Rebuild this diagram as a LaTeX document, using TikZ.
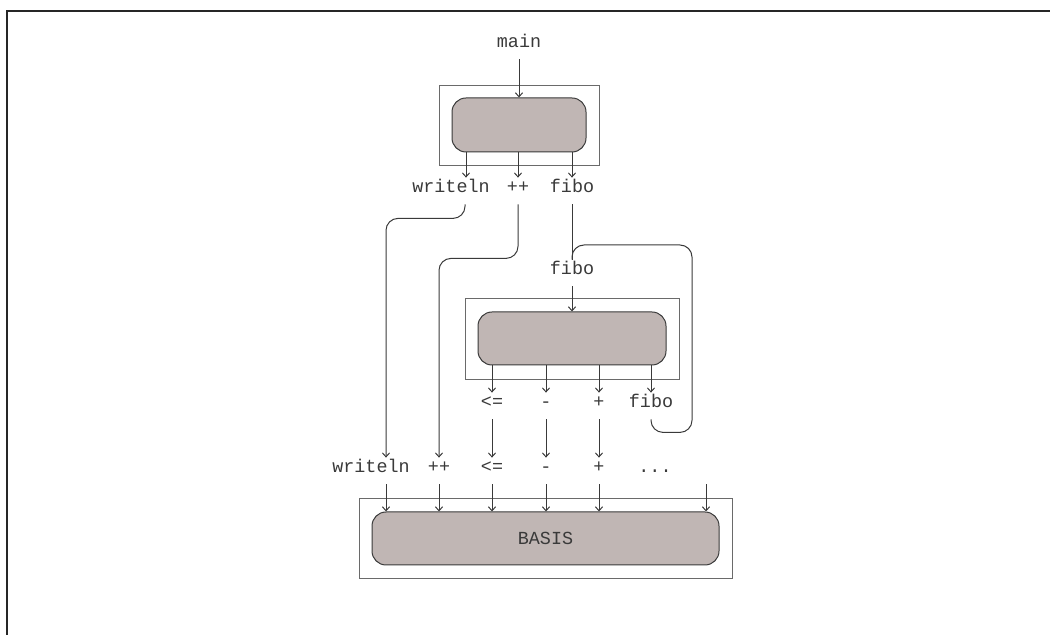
\documentclass[tikz,border=0pt]{standalone}
\usepackage{fontspec}
\usepackage{tikz}
\usetikzlibrary{arrows.meta,positioning,calc}
\newfontfamily\codefont{Liberation Mono}
\definecolor{cL}{HTML}{3a3a3a}
\definecolor{cG}{HTML}{6a6a6a}
\definecolor{cB}{HTML}{c0b6b4}
\tikzset{
  lbl/.style={font=\codefont\fontsize{9.2}{11}\selectfont,text=cL,inner sep=1.5pt,
              text height=6pt,text depth=4pt,anchor=base},
  frame/.style={draw=cG,line width=.4pt,inner sep=0pt},
  core/.style={draw=cL,fill=cB,rounded corners=7pt,line width=.5pt,inner sep=0pt,
              font=\codefont\fontsize{9.2}{11}\selectfont,text=cL},
  call/.style={-{Straight Barb[length=2pt,width=3.6pt]},cL,line width=.5pt},
  wire/.style={cL,line width=.5pt,rounded corners=6pt},
}

\begin{document}
\begin{tikzpicture}[x=.5pt,y=-.5pt]
  \useasboundingbox (0,0) rectangle (1050,635);
  \draw[line width=1pt,black!85] (7,635) -- (7,11) -- (1050,11);
  % module main
  \node[frame,minimum width=80pt,minimum height=40pt] (box1) at (519,125) {};
  \node[core,minimum width=67pt,minimum height=27pt] (core1) at (519,125) {};
  \node[lbl] (main) at (519,48) {main};
  \node[lbl] (wlA) at (451,193) {writeln};
  \node[lbl] (ppA) at (518,193) {++};
  \node[lbl] (fbA) at (572,193) {fibo};
  \draw[call] (main.south) -- (main.south |- core1.north);
  \draw[call] ([xshift=7.5pt]wlA.north |- core1.south) -- ([xshift=7.5pt]wlA.north);
  \foreach \n in {ppA,fbA}
     \draw[call] (\n.north |- core1.south) -- (\n.north);
  % module fibo
  \node[frame,minimum width=107pt,minimum height=40.5pt] (box2) at (572,338.5) {};
  \node[core,minimum width=94pt,minimum height=26.5pt] (core2) at (572,338.5) {};
  \node[lbl] (fbB) at (572,275) {fibo};
  \node[lbl] (leB) at (492,408) {<=};
  \node[lbl] (miB) at (546,408) {-};
  \node[lbl] (plB) at (599,408) {+};
  \node[lbl] (fbC) at (651,408) {fibo};
  \draw[wire] (fbA.south) -- (fbB.north);
  \draw[call] (fbB.south) -- (fbB.south |- core2.north);
  \foreach \n in {leB,miB,plB,fbC}
     \draw[call] (\n.north |- core2.south) -- (\n.north);
  % recursion
  \coordinate (rec) at (692,245);
  \draw[wire] (fbC.south) -- ++(0,-6.5pt) -| (rec) -| (fbB.north);
  % module BASIS
  \node[frame,minimum width=186.5pt,minimum height=40pt] (box3) at (545.5,538) {};
  \node[core,minimum width=173.5pt,minimum height=26.5pt] (core3) at (545.5,538.5) {BASIS};
  \node[lbl] (wlB) at (371,473) {writeln};
  \node[lbl] (ppB) at (439,473) {++};
  \node[lbl] (leC) at (492,473) {<=};
  \node[lbl] (miC) at (546,473) {-};
  \node[lbl] (plC) at (599,473) {+};
  \node[lbl] (dots) at (655,473) {...};
  \coordinate (more) at (706,484);
  \draw[wire,call] ([xshift=7pt]wlA.south) -- ++(0,-7pt) -| ([xshift=7.5pt]wlB.north);
  \draw[wire,call] (ppA.south) -- ++(0,-27pt) -| (ppB.north);
  \foreach \a/\b in {leB/leC,miB/miC,plB/plC}
     \draw[call] (\a.south) -- (\b.north);
  \draw[call] ([xshift=7.5pt]wlB.south) -- ([xshift=7.5pt]wlB.south |- core3.north);
  \foreach \n in {ppB,leC,miC,plC,more}
     \draw[call] (\n.south |- wlB.south) -- (\n.south |- core3.north);
\end{tikzpicture}
\end{document}
